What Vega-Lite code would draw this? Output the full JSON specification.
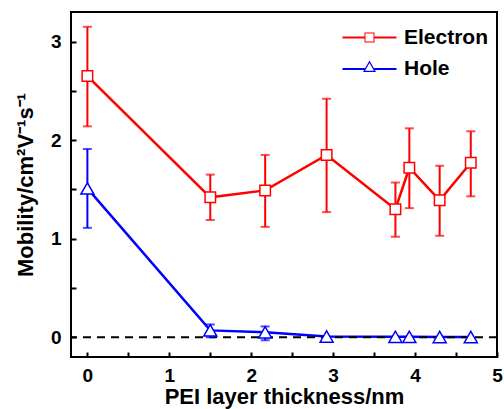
{
  "$schema": "https://vega.github.io/schema/vega-lite/v6.json",
  "width": 426,
  "height": 345,
  "autosize": "none",
  "padding": {"left": 71, "top": 12, "right": 7, "bottom": 52},
  "background": "white",
  "config": {
    "view": {"stroke": "black", "strokeWidth": 2},
    "font": "Liberation Sans",
    "axis": {
      "grid": false,
      "domain": false,
      "tickColor": "black",
      "tickWidth": 2,
      "tickSize": -5,
      "labelFont": "Liberation Sans",
      "labelFontWeight": "bold",
      "labelFontSize": 19,
      "labelColor": "black",
      "titleFont": "Liberation Sans",
      "titleFontWeight": "bold",
      "titleFontSize": 22,
      "titleColor": "black",
      "labelOverlap": false,
      "labelFlush": false
    }
  },
  "data": {
    "values": [
      {"series": "Electron", "x": 0, "y": 2.65, "lo": 2.14, "hi": 3.15},
      {"series": "Electron", "x": 1.5, "y": 1.42, "lo": 1.19, "hi": 1.65},
      {"series": "Electron", "x": 2.17, "y": 1.49, "lo": 1.12, "hi": 1.85},
      {"series": "Electron", "x": 2.92, "y": 1.85, "lo": 1.27, "hi": 2.42},
      {"series": "Electron", "x": 3.76, "y": 1.3, "lo": 1.02, "hi": 1.57},
      {"series": "Electron", "x": 3.93, "y": 1.72, "lo": 1.31, "hi": 2.12},
      {"series": "Electron", "x": 4.3, "y": 1.39, "lo": 1.03, "hi": 1.74},
      {"series": "Electron", "x": 4.68, "y": 1.77, "lo": 1.43, "hi": 2.09},
      {"series": "Hole", "x": 0, "y": 1.51, "lo": 1.11, "hi": 1.91},
      {"series": "Hole", "x": 1.5, "y": 0.07, "lo": 0.0, "hi": 0.13},
      {"series": "Hole", "x": 2.17, "y": 0.05, "lo": -0.03, "hi": 0.11},
      {"series": "Hole", "x": 2.92, "y": 0.008, "lo": null, "hi": null},
      {"series": "Hole", "x": 3.76, "y": 0.005, "lo": null, "hi": null},
      {"series": "Hole", "x": 3.93, "y": 0.005, "lo": null, "hi": null},
      {"series": "Hole", "x": 4.3, "y": 0.003, "lo": null, "hi": null},
      {"series": "Hole", "x": 4.68, "y": 0.003, "lo": null, "hi": null}
    ]
  },
  "encoding": {
    "x": {
      "field": "x",
      "type": "quantitative",
      "scale": {"domain": [-0.2, 5], "nice": false, "zero": false},
      "axis": {
        "title": "PEI layer thickness/nm",
        "values": [0, 0.5, 1, 1.5, 2, 2.5, 3, 3.5, 4, 4.5, 5],
        "labelExpr": "datum.value % 1 === 0 ? format(datum.value, 'd') : ''",
        "labelPadding": 14,
        "titlePadding": 1
      }
    },
    "y": {
      "field": "y",
      "type": "quantitative",
      "scale": {"domain": [-0.2, 3.3], "nice": false, "zero": false},
      "axis": {
        "title": "Mobility/cm²V⁻¹s⁻¹",
        "values": [0, 0.5, 1, 1.5, 2, 2.5, 3],
        "labelExpr": "datum.value % 1 === 0 ? format(datum.value, 'd') : ''",
        "labelPadding": 15,
        "titlePadding": 13
      }
    },
    "color": {
      "field": "series",
      "type": "nominal",
      "scale": {"domain": ["Electron", "Hole"], "range": ["#ff0000", "#0000ff"]},
      "legend": {
        "title": null,
        "orient": "none",
        "legendX": 288,
        "legendY": 15,
        "padding": 0,
        "symbolSize": 100,
        "labelOffset": 24,
        "rowPadding": 9.5,
        "labelFont": "Liberation Sans",
        "labelFontSize": 21,
        "labelFontWeight": "bold",
        "labelColor": "black",
        "encode": {
          "symbols": {
            "update": {
              "fill": {"signal": "datum.value === 'Electron' ? '#ff0000' : '#0000ff'"},
              "stroke": {"value": "transparent"},
              "strokeWidth": {"value": 0},
              "opacity": {"value": 1},
              "size": {"value": 100}
            }
          }
        }
      }
    }
  },
  "layer": [
    {
      "transform": [{"filter": "datum.x > 100"}],
      "mark": {"type": "point", "filled": true, "size": 100, "strokeWidth": 0},
      "encoding": {
        "shape": {
          "field": "series",
          "type": "nominal",
          "scale": {
            "domain": ["Electron", "Hole"],
            "range": [
              "M-5.4,-0.22H-1V0.22H-5.4Z M1,-0.22H5.4V0.22H1Z M-1,-1H1V1H-1Z M-0.8,-0.8V0.8H0.8V-0.8Z",
              "M-5.4,-0.22H-0.9V0.22H-5.4Z M0.9,-0.22H5.4V0.22H0.9Z M0,-1.68L1.3,0.6L-1.3,0.6Z M0,-1.2L-0.89,0.36L0.89,0.36Z"
            ]
          }
        }
      }
    },
    {
      "mark": {"type": "line", "strokeWidth": 2.5}
    },
    {
      "data": {"values": [{"z": 0}]},
      "mark": {"type": "rule", "color": "black", "strokeWidth": 2, "strokeDash": [8, 6]},
      "encoding": {"y": {"field": "z", "type": "quantitative"}, "x": null, "color": null}
    },
    {
      "transform": [{"filter": "datum.lo != null"}],
      "mark": {"type": "errorbar", "thickness": 2, "ticks": {"size": 9, "thickness": 2}},
      "encoding": {
        "y": {"field": "lo", "type": "quantitative"},
        "y2": {"field": "hi"}
      }
    },
    {
      "transform": [{"filter": "datum.series === 'Electron'"}],
      "mark": {"type": "point", "shape": "square", "filled": false, "fill": "white", "fillOpacity": 1, "opacity": 1, "strokeWidth": 1.5, "size": 110}
    },
    {
      "transform": [{"filter": "datum.series === 'Hole'"}],
      "mark": {"type": "point", "shape": "triangle-up", "filled": false, "fill": "white", "fillOpacity": 1, "opacity": 1, "strokeWidth": 1.5, "size": 170}
    }
  ]
}
